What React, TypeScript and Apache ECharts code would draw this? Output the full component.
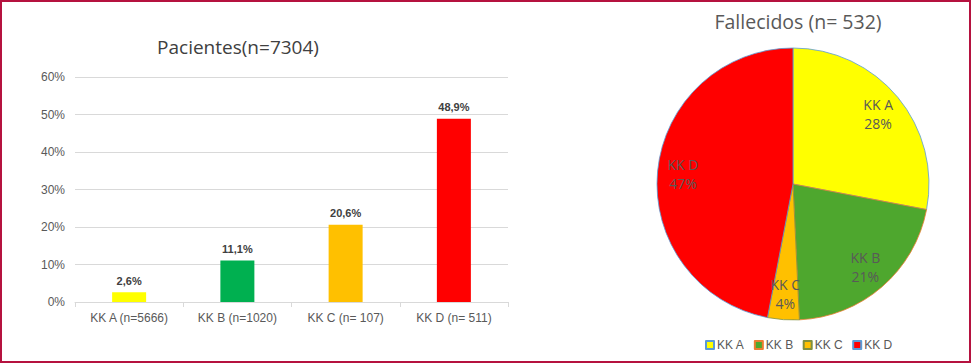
import React, { useEffect, useRef } from "react";
import * as echarts from "echarts";

const barCategories = ["KK A (n=5666)", "KK B (n=1020)", "KK C (n= 107)", "KK D (n= 511)"];
const barValues = [2.6, 11.1, 20.6, 48.9];
const barColors = ["#FFFF00", "#00B050", "#FFC000", "#FF0000"];
const yTicks = [0, 10, 20, 30, 40, 50, 60];

const pieNames = ["KK A", "KK B", "KK C", "KK D"];
const pieValues = [149, 113, 20, 250];
const pieColors = ["#FFFF00", "#4EA72E", "#FFC000", "#FF0000"];
const pieBorders = ["#5B9BD5", "#ED7D31", "#7F8F3F", "#5B9BD5"];

const barTitle = "Pacientes(n=7304)";
const pieTitle = "Fallecidos (n= 532)";

export default function App() {
  const ref = useRef<HTMLDivElement>(null);
  useEffect(() => {
    document.body.style.margin = "0";
    const chart = echarts.init(ref.current!, null, { renderer: "svg" });
    const total = pieValues.reduce((a, b) => a + b, 0);
    const pieData = pieNames.map((n, i) => ({
      name: n,
      value: pieValues[i],
      itemStyle: { color: pieColors[i], borderColor: pieBorders[i] },
    }));
    chart.setOption({
      animation: false,
      backgroundColor: "#ffffff",
      title: [
        {
          text: barTitle,
          left: 233,
          top: 32,
          textAlign: "center",
          textStyle: { fontFamily: "Open Sans", fontSize: 19, fontWeight: "normal", color: "#404040" },
        },
        {
          text: pieTitle,
          left: 793,
          top: 6,
          textAlign: "center",
          textStyle: { fontFamily: "Open Sans", fontSize: 19.5, fontWeight: "normal", color: "#595959" },
        },
      ],
      grid: { left: 75, right: 463, top: 77, bottom: 61, containLabel: false },
      xAxis: {
        type: "category",
        data: barCategories,
        axisLine: { lineStyle: { color: "#d9d9d9" } },
        axisTick: { show: true, length: 5, lineStyle: { color: "#d9d9d9" } },
        axisLabel: { fontFamily: "Liberation Sans", fontSize: 12, color: "#595959", margin: 10 },
      },
      yAxis: {
        type: "value",
        min: yTicks[0],
        max: yTicks[yTicks.length - 1],
        interval: 10,
        axisLine: { show: false },
        axisTick: { show: false },
        splitLine: { lineStyle: { color: "#d9d9d9" } },
        axisLabel: {
          fontFamily: "Liberation Sans",
          fontSize: 12,
          color: "#595959",
          margin: 10,
          formatter: (v: number) => v + "%",
        },
      },
      legend: {
        data: pieNames,
        left: 705,
        top: 339,
        padding: 0,
        orient: "horizontal",
        icon: "rect",
        itemWidth: 8,
        itemHeight: 8,
        itemGap: 9.5,
        textStyle: { fontFamily: "Liberation Sans", fontSize: 12, color: "#595959", padding: [0, 0, 0, -2] },
      },
      series: [
        {
          type: "bar",
          data: barValues.map((v, i) => ({ value: v, itemStyle: { color: barColors[i] } })),
          barWidth: 34,
          label: {
            show: true,
            position: "top",
            distance: 6,
            fontFamily: "Liberation Sans",
            fontSize: 11,
            fontWeight: "bold",
            color: "#404040",
            formatter: (p: any) => String(p.value).replace(".", ",") + "%",
          },
        },
        {
          type: "pie",
          center: [793, 184],
          radius: [0, 136],
          startAngle: 90,
          clockwise: true,
          data: pieData,
          itemStyle: { borderWidth: 0.8 },
          label: { show: false },
          labelLine: { show: false },
          emphasis: { disabled: true },
        },
        {
          type: "pie",
          center: [793, 184],
          radius: [79, 136],
          startAngle: 90,
          clockwise: true,
          silent: true,
          data: pieNames.map((n, i) => ({ name: n, value: pieValues[i] })),
          itemStyle: { color: "rgba(0,0,0,0)", borderWidth: 0 },
          label: {
            show: true,
            position: "inside",
            fontFamily: "Open Sans",
            fontSize: 14,
            lineHeight: 19,
            color: "#595959",
            formatter: (p: any) => p.name + "\n" + Math.round((p.value / total) * 100) + "%",
          },
          labelLine: { show: false },
          emphasis: { disabled: true },
        },
      ],
    });
    return () => chart.dispose();
  }, []);
  return (
    <div style={{ position: "relative", width: 971, height: 363 }}>
      <div ref={ref} style={{ position: "absolute", left: 0, top: 0, width: 971, height: 363 }} />
      <div
        style={{
          position: "absolute",
          left: 0,
          top: 0,
          width: 971,
          height: 363,
          boxSizing: "border-box",
          border: "2px solid #B5123F",
          pointerEvents: "none",
        }}
      />
    </div>
  );
}
